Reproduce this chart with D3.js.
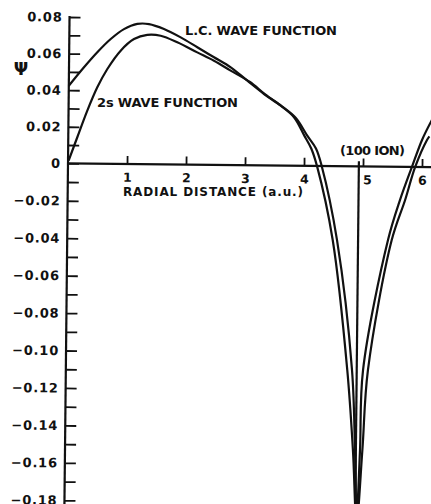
<!DOCTYPE html>
<head>
  <meta charset='utf-8'>
  <style>
    body {
      margin: 0;
      background: #fff;
    }
    svg { display: block; }
    text {
      font-family: 'DejaVu Sans', sans-serif;
      font-weight: bold;
      fill: #111;
    }
    .axis-line { stroke: #111; stroke-width: 2.2; }
    .curve { fill: none; stroke: #111; stroke-width: 2.2; }
  </style>
</head>
<body>
<div id='vis'></div>
<script src='https://d3js.org/d3.v7.min.js'></script>
<script>
  // values (r in a.u., psi)
  const radiusLC = [0, 0.254, 0.477, 0.702, 0.925, 1.15, 1.348, 1.603, 1.888, 2.171, 2.456, 2.741, 3.024, 3.31, 3.595, 3.822, 4.0, 4.12, 4.22,
    4.5, 4.77, 4.88, 4.955, 5.04, 5.12, 5.5, 5.72, 5.885, 6.08, 6.12]
  const psiLC = [0.0424, 0.0526, 0.0609, 0.0682, 0.0737, 0.0766, 0.0766, 0.0740, 0.0695, 0.0642, 0.0588, 0.0534, 0.0462, 0.0390, 0.0327, 0.0265, 0.0165, 0.0095, 0,
    -0.0395, -0.1089, -0.1516, -0.19, -0.1515, -0.1088, -0.0392, -0.0177, 0, 0.0148, 0.0168]

  const radius2s = [0.01, 0.153, 0.318, 0.483, 0.65, 0.873, 1.097, 1.321, 1.548, 1.831, 2.171, 2.456, 2.74, 3.07, 3.33, 3.61, 3.85, 4.05, 4.2, 4.30,
    4.573, 4.85, 4.915, 4.955, 5.0, 5.037, 5.437, 5.634, 5.83, 5.996, 6.16]
  const psi2s = [0.0015, 0.0143, 0.0289, 0.0417, 0.0518, 0.0619, 0.0683, 0.0707, 0.0703, 0.0668, 0.0614, 0.0569, 0.0516, 0.0455, 0.0388, 0.0325, 0.0262, 0.0165, 0.0095, 0,
    -0.0395, -0.1088, -0.1515, -0.186, -0.1515, -0.1088, -0.0392, -0.0177, 0, 0.0148, 0.0258]

  const ionRadius = 4.93

  const xTicks = [1, 2, 3, 4, 5, 6]
  const xTickLabels = ['1', '2', '3', '4', '5', '6']
  const yTicks = [0.08, 0.06, 0.04, 0.02, 0, -0.02, -0.04, -0.06, -0.08, -0.10, -0.12, -0.14, -0.16, -0.18]
  const yTickLabels = ['0.08', '0.06', '0.04', '0.02', '0', '\u22120.02', '\u22120.04', '\u22120.06', '\u22120.08',
    '\u22120.10', '\u22120.12', '\u22120.14', '\u22120.16', '\u22120.18']

  const W = 431, H = 504
  const origin = {x: 68, y: 163.3}
  const tilt = 0.6 // the scanned page is slightly rotated

  const x = d3.scaleLinear().domain([0, 6]).range([0, 354])
  // the scan is a bit stretched below the axis
  const y = d3.scaleLinear().domain([-0.18, 0, 0.08]).range([337, 0, -146.3])

  const svg = d3.select('#vis')
    .append('svg')
    .attr('width', W)
    .attr('height', H)

  const plot = svg.append('g')
    .attr('transform', `translate(${origin.x}, ${origin.y}) rotate(${tilt})`)

  // y axis: a tick every 0.01, labels on the even ones
  const minorTicks = d3.range(-18, 9).map(d => d / 100)
  const yAxis = plot.append('g')
    .call(d3.axisLeft(y)
      .tickValues(minorTicks)
      .tickSize(-11)
      .tickSizeOuter(0)
      .tickPadding(7)
      .tickFormat(d => {
        const i = yTicks.findIndex(t => Math.abs(t - d) < 1e-6)
        return i < 0 ? '' : yTickLabels[i]
      }))
  yAxis.select('.domain').remove()
  yAxis.attr('font-family', null).attr('font-size', 13)
  yAxis.selectAll('line').attr('stroke', '#111').attr('stroke-width', 1.8)
  yAxis.selectAll('text').attr('letter-spacing', 0.8)

  plot.append('line')
    .attr('class', 'axis-line')
    .attr('x1', 0).attr('x2', 0)
    .attr('y1', y(0.08) - 1).attr('y2', 360)

  // x axis
  const xAxis = plot.append('g')
    .call(d3.axisBottom(x)
      .tickValues(xTicks)
      .tickSize(-8)
      .tickSizeOuter(0)
      .tickPadding(9)
      .tickFormat((d, i) => xTickLabels[i]))
  xAxis.select('.domain').remove()
  xAxis.attr('font-family', null).attr('font-size', 12.5)
  xAxis.selectAll('line').attr('stroke', '#111').attr('stroke-width', 1.8)
  xAxis.selectAll('text').attr('dx', d => d === 5 ? 4 : 0)

  plot.append('line')
    .attr('class', 'axis-line')
    .attr('x1', -1).attr('x2', 380)
    .attr('y1', 0).attr('y2', 0)

  // ion position
  plot.append('line')
    .attr('class', 'axis-line')
    .attr('stroke-width', 1.6)
    .attr('x1', x(ionRadius)).attr('x2', x(ionRadius))
    .attr('y1', y(0) - 5).attr('y2', 360)

  const line = d3.line()
    .x(d => x(d[0]))
    .y(d => y(d[1]))
    .curve(d3.curveCatmullRom.alpha(0.5))

  plot.append('path')
    .attr('class', 'curve')
    .attr('d', line(d3.zip(radiusLC, psiLC)))

  plot.append('path')
    .attr('class', 'curve')
    .attr('d', line(d3.zip(radius2s, psi2s)))

  // annotations
  const notes = svg.append('g')

  notes.append('text')
    .attr('x', 21).attr('y', 75)
    .attr('text-anchor', 'middle')
    .attr('font-size', 17)
    .text('\u03A8')

  notes.append('text')
    .attr('x', 185).attr('y', 35)
    .attr('font-size', 13)
    .attr('textLength', 152)
    .attr('lengthAdjust', 'spacing')
    .text('L.C. WAVE FUNCTION')

  notes.append('text')
    .attr('x', 97).attr('y', 107)
    .attr('font-size', 13)
    .attr('textLength', 141)
    .attr('lengthAdjust', 'spacing')
    .text('2s WAVE FUNCTION')

  notes.append('text')
    .attr('x', 340).attr('y', 155)
    .attr('font-size', 13)
    .attr('textLength', 65)
    .attr('lengthAdjust', 'spacing')
    .text('(100 ION)')

  notes.append('text')
    .attr('x', 123).attr('y', 196)
    .attr('font-size', 12)
    .attr('textLength', 180)
    .attr('lengthAdjust', 'spacing')
    .text('RADIAL DISTANCE (a.u.)')
</script>
</body>
